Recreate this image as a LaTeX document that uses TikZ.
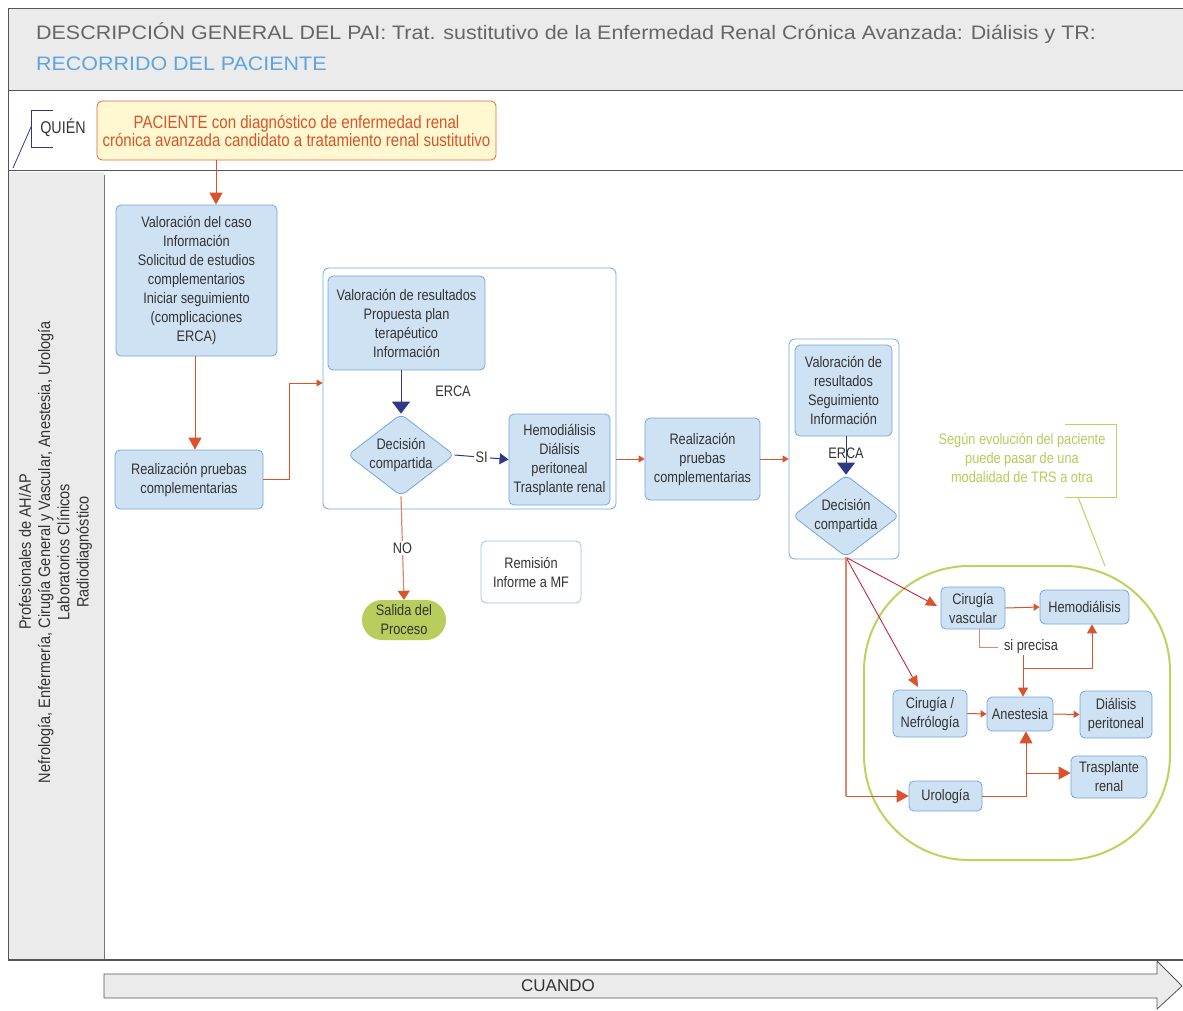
\documentclass[tikz,border=0pt]{standalone}
\usepackage{fontspec}
\setmainfont{Liberation Sans}[FakeStretch=0.84]
\newfontfamily\ttlfont{Liberation Sans}[FakeStretch=1.1]
\newfontfamily\wfont{Liberation Sans}
\newfontfamily\lanefont{Liberation Sans}[FakeStretch=0.88]
\usetikzlibrary{arrows.meta,shapes.geometric}
\definecolor{boxf}{HTML}{CFE2F4}
\definecolor{boxb}{HTML}{6FA8DC}
\definecolor{txt}{HTML}{333333}
\definecolor{orng}{HTML}{D9532B}
\definecolor{salmon}{HTML}{E3866A}
\definecolor{redl}{HTML}{C8102E}
\definecolor{navy}{HTML}{2E3A87}
\definecolor{grn}{HTML}{BCD35F}
\definecolor{grntxt}{HTML}{B5CC5A}
\definecolor{salida}{HTML}{B8CE5C}
\definecolor{hdr}{HTML}{EBEBEB}
\definecolor{frame}{HTML}{555555}
\definecolor{ttlgray}{HTML}{666666}
\definecolor{ttlblue}{HTML}{5DA5E0}
\definecolor{ptf}{HTML}{FFF8D0}
\definecolor{ptb}{HTML}{E0683A}
\newcommand{\bx}{\fontsize{15.2}{19}\selectfont}
\tikzset{
  box/.style={draw=boxb, fill=boxf, rounded corners=5pt, align=center, text=txt, font=\bx, inner sep=1pt, line width=0.8pt},
  cont/.style={draw=boxb, fill=white, rounded corners=6pt, line width=0.8pt, inner sep=0pt},
  dia/.style={diamond, draw=boxb, fill=boxf, rounded corners=6pt, align=center, text=txt, font=\bx, inner sep=0pt, aspect=1.3, line width=0.8pt},
  lbl/.style={text=txt, font=\bx, inner sep=1pt},
  oarr/.style={draw=orng, line width=1pt, -{Triangle[length=12pt,width=13pt]}},
  osm/.style={draw=orng, line width=1pt, -{Triangle[length=6pt,width=7pt]}},
  narr/.style={draw=navy, line width=1pt, -{Triangle[length=12pt,width=18pt]}},
  rarr/.style={draw=redl, line width=0.8pt, -{Triangle[length=11pt,width=10pt,color=orng]}}
}
\begin{document}
\begin{tikzpicture}[x=1pt,y=-1pt]
\useasboundingbox (0,0) rectangle (1183,1010);
\fill[white] (0,0) rectangle (1183,1010);
% frame
\fill[hdr] (8,8) rectangle (1186,90);
\fill[hdr] (8,172) rectangle (104,960);
\draw[frame, line width=1pt] (1186,8) -- (8,8) -- (8,960);
\draw[frame, line width=1pt] (8,90) -- (1186,90);
\draw[frame, line width=1pt] (8,170) -- (1186,170);
\draw[frame!80, line width=1pt] (104,175) -- (104,960);
\draw[frame, line width=1.6pt] (8,960) -- (1186,960);
% title
\node[anchor=west, text=ttlgray, font=\ttlfont\fontsize{19.5}{22}\selectfont, inner sep=0pt] (T1) at (36,33) {DESCRIPCIÓN GENERAL DEL PAI: Trat. sustitutivo de la Enfermedad Renal Crónica Avanzada: Diálisis y TR:};
\node[anchor=west, text=ttlblue, font=\ttlfont\fontsize{19.5}{22}\selectfont, inner sep=0pt] (T2) at (36,64) {RECORRIDO DEL PACIENTE};
% quien
\node[lbl, font=\fontsize{17}{19}\selectfont] (Q) at (63,128) {QUIÉN};
\draw[navy, line width=0.8pt] (53,110) -- (31,110) -- (31,147) -- (53,147);
\draw[navy, line width=0.8pt] (13,168) -- (31,127);
\node[draw=ptb, fill=ptf, rounded corners=5pt, text=orng, font=\fontsize{17.9}{18}\selectfont, align=center, line width=0.8pt, minimum width=399pt, minimum height=59pt, inner sep=1pt] (P) at (296.5,130.5) {PACIENTE con diagnóstico de enfermedad renal\\crónica avanzada candidato a tratamiento renal sustitutivo};
% lane text
\node[rotate=90, align=center, text=txt, font=\lanefont\fontsize{16.5}{19.3}\selectfont] (L) at (55.5,552) {Profesionales de AH/AP\\Nefrología, Enfermería, Cirugía General y Vascular, Anestesia, Urología\\Laboratorios Clínicos\\Radiodiagnóstico};
% containers
\node[cont, minimum width=293pt, minimum height=241pt] (C1) at (469.5,388.5) {};
\node[cont, minimum width=110pt, minimum height=220pt] (C2) at (844,449) {};
% boxes
\node[box, minimum width=161pt, minimum height=151pt] (A) at (196.5,280.5) {Valoración del caso\\Información\\Solicitud de estudios\\complementarios\\Iniciar seguimiento\\(complicaciones\\ERCA)};
\node[box, minimum width=148pt, minimum height=59pt] (B) at (189,479.5) {Realización pruebas\\complementarias};
\node[box, minimum width=157pt, minimum height=94pt] (C) at (406.5,323) {Valoración de resultados\\Propuesta plan\\terapéutico\\Información};
\node[dia, minimum width=104pt, minimum height=80pt] (D1) at (401,455) {Decisión\\compartida};
\node[box, minimum width=101pt, minimum height=91pt] (E) at (559.5,459.5) {Hemodiálisis\\Diálisis\\peritoneal\\Trasplante renal};
\node[box, minimum width=115pt, minimum height=82pt] (F) at (702.5,459) {Realización\\pruebas\\complementarias};
\node[box, minimum width=97pt, minimum height=91pt] (G) at (843.5,390.5) {Valoración de\\resultados\\Seguimiento\\Información};
\node[dia, minimum width=100pt, minimum height=72pt] (D2) at (846,516) {Decisión\\compartida};
\node[fill=salida, rounded corners=20pt, align=center, text=txt, font=\bx, minimum width=84pt, minimum height=40pt, inner sep=0pt] (S) at (404,620) {Salida del\\Proceso};
\node[box, fill=white, draw=boxb!70, minimum width=100pt, minimum height=62pt] (R) at (531,572) {Remisión\\Informe a MF};
% green cluster
\draw[grn, line width=2pt, rounded corners=105pt] (864,566) rectangle (1170,860);
\node[text=grntxt, font=\bx, align=center, inner sep=0pt] (GT) at (1022,458) {Según evolución del paciente\\puede pasar de una\\modalidad de TRS a otra};
\draw[grn, line width=1pt] (1065,424) -- (1116,424) -- (1116,497) -- (1065,497);
\draw[grn, line width=1pt] (1078,497) -- (1105,566);
\node[box, minimum width=64pt, minimum height=42pt] (CV) at (973,608) {Cirugía\\vascular};
\node[box, minimum width=89pt, minimum height=34pt] (HD) at (1084.5,607) {Hemodiálisis};
\node[box, minimum width=74pt, minimum height=47pt] (CN) at (930,713.5) {Cirugía /\\Nefrólogía};
\node[box, minimum width=66pt, minimum height=34pt] (AN) at (1020,714) {Anestesia};
\node[box, minimum width=72pt, minimum height=47pt] (DP) at (1116,714.5) {Diálisis\\peritoneal};
\node[box, minimum width=76pt, minimum height=42pt] (TR) at (1109,777) {Trasplante\\renal};
\node[box, minimum width=73pt, minimum height=30pt] (UR) at (945.5,796) {Urología};
\node[lbl] (SP) at (1031,647) {si precisa};
% bottom arrow
\draw[fill=hdr, draw=frame, line width=0.8pt] (104,974) -- (1157,974) -- (1157,961) -- (1182,986) -- (1157,1009) -- (1157,998) -- (104,998) -- cycle;
\node[lbl, font=\wfont\fontsize{17}{19}\selectfont] (CU) at (558,986) {CUANDO};
% coordinates
\coordinate (pa) at (216,0);
\coordinate (pb) at (195,0);
\coordinate (k1) at (289,383);
\coordinate (q1) at (979,647);
\coordinate (q2) at (998,647);
\coordinate (q3) at (1023,0);
\coordinate (q4) at (1023,668);
\coordinate (q5) at (1092,0);
\coordinate (q6) at (1026,0);
\coordinate (q7) at (1026,773);
\coordinate (cvin) at (937,606);
\coordinate (cnin) at (918,687);
% connectors
\draw[oarr] (P.south -| pa) -- (A.north -| pa);
\draw[oarr] (A.south -| pb) -- (B.north -| pb);
\draw[osm] (B.east) -| (k1) -- (C1.west |- k1);
\draw[narr] (C.south -| D1.north) -- (D1.north);
\node[lbl] (E1) at (453,391) {ERCA};
\draw[navy, line width=1pt, -{Triangle[length=9pt,width=11pt]}] (D1.east) -- node[fill=white, lbl, inner sep=2pt] (SI) {SI} (E.west);
\draw[osm] (C1.east |- F.west) -- (F.west);
\draw[osm] (F.east) -- (C2.west |- F.east);
\draw[narr] (G.south -| D2.north) -- (D2.north);
\node[lbl] (E2) at (846,453) {ERCA};
\draw[salmon, line width=1.2pt, -{Triangle[length=9pt,width=12pt,color=orng]}] (D1.south) -- node[fill=white, lbl, inner sep=2pt] (NO) {NO} (S.north);
\draw[rarr] (D2.south) -- (cvin);
\draw[rarr] (D2.south) -- (cnin);
\draw[salmon, line width=1.2pt] (D2.south) -- (D2.south |- UR.west);
\draw[oarr] (D2.south |- UR.west) -- (UR.west);
\draw[osm] (CV.east) -- (HD.west);
\draw[salmon, line width=1pt] (CV.south -| q1) -- (q1) -- (q2);
\draw[oarr, -{Triangle[length=9pt,width=10pt]}] (SP.south -| q3) -- (AN.north -| q3);
\draw[oarr, -{Triangle[length=9pt,width=10pt]}] (q4) -| (HD.south -| q5);
\draw[osm] (CN.east) -- (AN.west);
\draw[osm] (AN.east) -- (DP.west);
\draw[oarr] (UR.east) -| (AN.south -| q6);
\draw[oarr] (q7) -- (TR.west |- q7);
\end{tikzpicture}
\end{document}
